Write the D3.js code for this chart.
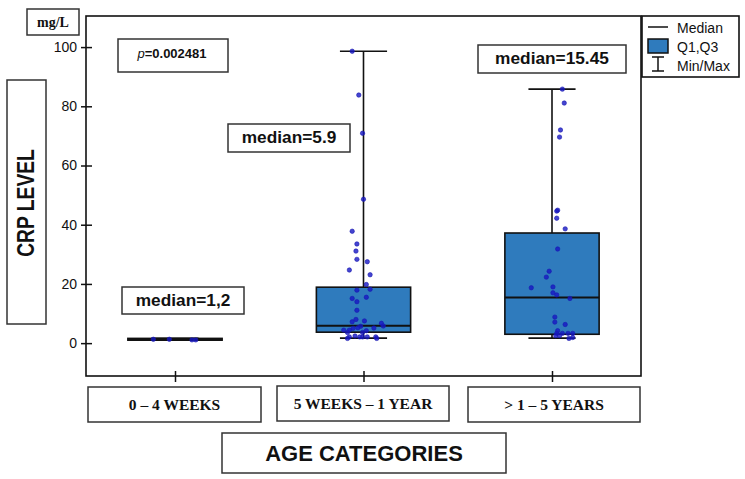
<!DOCTYPE html>
<html>
<head>
<meta charset="utf-8">
<script src="https://cdn.jsdelivr.net/npm/d3@7"></script>
<style>
  body { margin: 0; background: #fff; }
  svg { display: block; }
</style>
</head>
<body>
<div id="chart"></div>
<script>
// data
const categories = ["0 – 4 WEEKS", "5 WEEKS – 1 YEAR", "> 1 – 5 YEARS"];
const yTicks = [0, 20, 40, 60, 80, 100];
const mins = [1.0, 1.7, 1.7];
const q1s = [1.0, 3.7, 3.0];
const medians = [1.2, 5.9, 15.45];
const q3s = [1.6, 18.9, 37.2];
const maxs = [1.6, 98.6, 85.8];
const medianLabels = ["median=1,2", "median=5.9", "median=15.45"];

const points1 = [1.3, 1.3, 1.1, 1.1];
const jitter1 = [-0.23, -0.06, 0.18, 0.22];
const points2 = [98.6, 83.8, 70.9, 48.6, 37.8, 33.5, 31.1, 28.3, 27.5, 24.7, 23.1, 19.8, 18.2, 17.9,
  15.5, 15.1, 14.0, 11.1, 8.0, 7.5, 7.2, 6.7, 5.8, 5.7, 5.2, 5.1, 5.0, 4.4, 4.4, 4.2, 3.6, 3.6,
  2.4, 2.1, 2.1, 2.1, 2.1, 2.1, 1.6, 1.6];
const jitter2 = [-0.12, -0.05, -0.01, 0, -0.12, -0.07, -0.08, -0.07, 0.04, -0.15, 0.07, 0.03, 0.07, -0.07,
  0.03, -0.12, -0.07, -0.07, -0.08, 0.01, -0.12, 0.19, 0.21, -0.03, -0.06, 0.11, -0.11, -0.21, -0.15, 0.03, -0.17, -0.01,
  -0.09, -0.04, 0.04, 0.13, -0.15, -0.01, 0.14, -0.17];
const points3 = [85.8, 81.1, 72.0, 69.6, 44.9, 44.6, 42.2, 38.6, 31.8, 24.3, 22.3, 19.0, 18.7, 17.0,
  16.3, 15.1, 8.8, 7.1, 6.3, 4.2, 3.3, 3.3, 3.3, 3.3, 2.5, 2.5, 1.9, 1.6];
const jitter3 = [0.11, 0.13, 0.09, 0.08, 0.06, 0.05, 0.05, 0.14, 0.06, -0.03, -0.06, 0.01, -0.22, 0.01,
  0.05, 0.19, 0.03, 0.03, 0.14, 0.06, 0.05, 0.11, 0.17, 0.22, 0.04, 0.08, 0.22, 0.18];

const W = 745, H = 479;
const frame = { left: 86, top: 16, right: 641, bottom: 376 };

const svg = d3.select("#chart").append("svg")
  .attr("width", W).attr("height", H);

const x = d3.scalePoint().domain(categories).range([175, 552]);
const boxW = x.step() * 0.5;
const y = d3.scaleLinear().domain([-11.1, 110.5]).range([frame.bottom, frame.top]);

const sans = "'Liberation Sans', Arial, sans-serif";
const serif = "'Liberation Serif', 'Times New Roman', serif";

// frame
svg.append("rect")
  .attr("x", frame.left).attr("y", frame.top)
  .attr("width", frame.right - frame.left).attr("height", frame.bottom - frame.top)
  .attr("fill", "none").attr("stroke", "#111").attr("stroke-width", 1.6);

// y axis
const yAxis = svg.append("g")
  .attr("transform", `translate(${frame.left},0)`)
  .call(d3.axisLeft(y).tickValues(yTicks).tickSize(6).tickPadding(4));
yAxis.select(".domain").remove();
yAxis.selectAll(".tick line").attr("x1", -5).attr("x2", 6).attr("stroke", "#111").attr("stroke-width", 1.5);
yAxis.selectAll(".tick text").attr("font-family", sans).attr("font-size", 14).attr("fill", "#111").attr("x", -9);

// x axis ticks
const xAxis = svg.append("g")
  .attr("transform", `translate(0,${frame.bottom})`)
  .call(d3.axisBottom(x).tickSize(6).tickFormat(""));
xAxis.select(".domain").remove();
xAxis.selectAll(".tick line").attr("y1", -5).attr("y2", 6).attr("stroke", "#111").attr("stroke-width", 1.5);

// boxes
const groups = categories.map((c, i) => ({
  cat: c, min: mins[i], q1: q1s[i], med: medians[i], q3: q3s[i], max: maxs[i]
}));

const g = svg.append("g");
groups.forEach(d => {
  const cx = x(d.cat);
  // whiskers
  g.append("line").attr("x1", cx).attr("x2", cx).attr("y1", y(d.max)).attr("y2", y(d.min))
    .attr("stroke", "#111").attr("stroke-width", 1.6);
  [d.min, d.max].forEach(v => {
    g.append("line").attr("x1", cx - boxW / 4).attr("x2", cx + boxW / 4)
      .attr("y1", y(v)).attr("y2", y(v))
      .attr("stroke", "#111").attr("stroke-width", 1.6);
  });
  // box
  g.append("rect")
    .attr("x", cx - boxW / 2).attr("width", boxW)
    .attr("y", y(d.q3)).attr("height", y(d.q1) - y(d.q3))
    .attr("fill", d.q3 - d.q1 < 2 ? "#111" : "#2f7bbd")
    .attr("stroke", "#111").attr("stroke-width", 1.6);
  // median
  g.append("line").attr("x1", cx - boxW / 2).attr("x2", cx + boxW / 2)
    .attr("y1", y(d.med)).attr("y2", y(d.med))
    .attr("stroke", "#111").attr("stroke-width", 2);
});

// points
const pointSets = [[points1, jitter1], [points2, jitter2], [points3, jitter3]];
pointSets.forEach(([vals, jit], i) => {
  const cx = x(categories[i]);
  svg.append("g").selectAll("circle")
    .data(vals)
    .enter()
    .append("circle")
    .attr("cx", (v, j) => cx + jit[j] * boxW)
    .attr("cy", v => y(v))
    .attr("r", 2.2)
    .attr("fill", "#1717c4")
    .attr("fill-opacity", 0.8)
    .attr("stroke", "#1a1ab0")
    .attr("stroke-width", 0.6);
});

// helper: bordered label box (sx stretches the text horizontally)
function labelBox(x0, y0, w, h, text, font, size, weight, sx = 1) {
  svg.append("rect")
    .attr("x", x0).attr("y", y0).attr("width", w).attr("height", h)
    .attr("fill", "#fff").attr("stroke", "#333").attr("stroke-width", 1.5);
  return svg.append("text")
    .attr("transform", `translate(${x0 + w / 2},${y0 + h / 2}) scale(${sx},1)`)
    .attr("text-anchor", "middle").attr("dominant-baseline", "central")
    .attr("font-family", font).attr("font-size", size).attr("font-weight", weight)
    .attr("fill", "#111")
    .text(text);
}

// median annotations
const medBoxes = [[122, 287, 122, 27], [228, 124, 122, 28], [478, 45, 148, 28]];
medianLabels.forEach((t, i) => {
  const b = medBoxes[i];
  labelBox(b[0], b[1], b[2], b[3], t, sans, 16, "bold", 1.08);
});

// p-value box
svg.append("rect")
  .attr("x", 118).attr("y", 39).attr("width", 110).attr("height", 33)
  .attr("fill", "#fff").attr("stroke", "#333").attr("stroke-width", 1.5);
const pText = svg.append("text")
  .attr("x", 172).attr("y", 52.5)
  .attr("text-anchor", "middle").attr("dominant-baseline", "central")
  .attr("font-family", sans).attr("font-size", 13).attr("fill", "#111");
pText.append("tspan").attr("font-style", "italic").text("p");
pText.append("tspan").attr("font-weight", "bold").text("=0.002481");

// unit box
labelBox(27, 9, 52, 26, "mg/L", serif, 14, "bold");

// y title
svg.append("rect")
  .attr("x", 7).attr("y", 80).attr("width", 39).attr("height", 244)
  .attr("fill", "#fff").attr("stroke", "#333").attr("stroke-width", 1.5);
svg.append("text")
  .attr("transform", "translate(26,203) rotate(-90) scale(0.82,1)")
  .attr("text-anchor", "middle").attr("dominant-baseline", "central")
  .attr("font-family", sans).attr("font-size", 23.5).attr("font-weight", "bold")
  .attr("fill", "#111")
  .text("CRP LEVEL");

// category label boxes
const catBoxes = [[88, 387, 173, 35], [277, 386, 172, 35], [468, 387, 172, 35]];
categories.forEach((c, i) => {
  const b = catBoxes[i];
  labelBox(b[0], b[1], b[2], b[3], c, serif, 15.5, "bold");
});

// x title
labelBox(222, 433, 284, 40, "AGE CATEGORIES", sans, 22, "bold");

// legend
const lg = svg.append("g").attr("transform", "translate(642,16)");
lg.append("rect").attr("width", 97).attr("height", 61)
  .attr("fill", "#fff").attr("stroke", "#111").attr("stroke-width", 1.6);
lg.append("line").attr("x1", 6).attr("x2", 26).attr("y1", 11).attr("y2", 11)
  .attr("stroke", "#111").attr("stroke-width", 1.5);
lg.append("rect").attr("x", 6).attr("y", 23).attr("width", 20).attr("height", 14)
  .attr("fill", "#2f7bbd").attr("stroke", "#111").attr("stroke-width", 1.5);
lg.append("line").attr("x1", 16).attr("x2", 16).attr("y1", 41).attr("y2", 55)
  .attr("stroke", "#111").attr("stroke-width", 1.5);
lg.append("line").attr("x1", 10).attr("x2", 22).attr("y1", 41).attr("y2", 41)
  .attr("stroke", "#111").attr("stroke-width", 1.5);
lg.append("line").attr("x1", 10).attr("x2", 22).attr("y1", 55).attr("y2", 55)
  .attr("stroke", "#111").attr("stroke-width", 1.5);
["Median", "Q1,Q3", "Min/Max"].forEach((t, i) => {
  lg.append("text")
    .attr("x", 35).attr("y", 12 + i * 19)
    .attr("dominant-baseline", "central")
    .attr("font-family", sans).attr("font-size", 14).attr("fill", "#111")
    .text(t);
});
</script>
</body>
</html>
